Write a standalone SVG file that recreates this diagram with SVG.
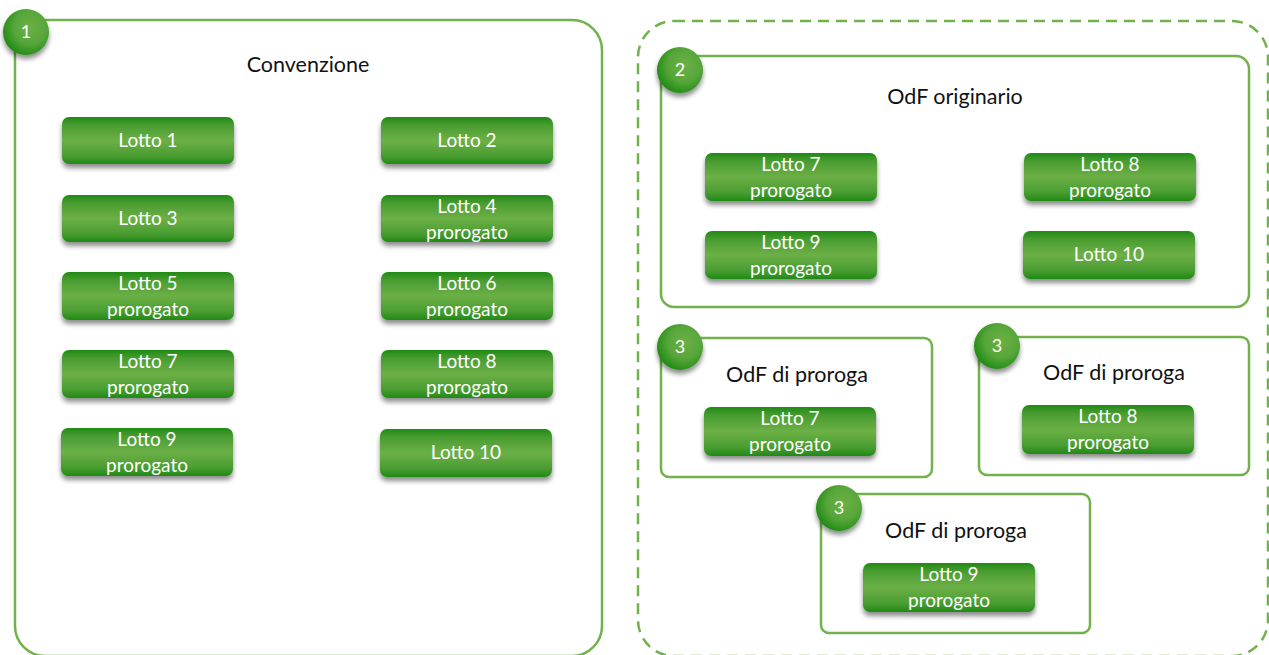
<svg xmlns="http://www.w3.org/2000/svg" width="1269" height="655" viewBox="0 0 1269 655">
<defs>
<linearGradient id="btn" x1="0" y1="0" x2="0" y2="1">
<stop offset="0" stop-color="#1f8a14"/>
<stop offset="0.18" stop-color="#4a9d32"/>
<stop offset="0.5" stop-color="#6cb046"/>
<stop offset="0.82" stop-color="#4a9d32"/>
<stop offset="1" stop-color="#1f8a14"/>
</linearGradient>
<radialGradient id="circ" cx="0.6" cy="0.4" r="0.65">
<stop offset="0" stop-color="#6cb046"/>
<stop offset="0.55" stop-color="#57a63a"/>
<stop offset="1" stop-color="#1d8a12"/>
</radialGradient>
<filter id="sh" x="-20%" y="-30%" width="140%" height="180%">
<feGaussianBlur in="SourceAlpha" stdDeviation="2.5"/>
<feOffset dx="0" dy="4" result="b"/>
<feComponentTransfer><feFuncA type="linear" slope="0.45"/></feComponentTransfer>
<feMerge><feMergeNode/><feMergeNode in="SourceGraphic"/></feMerge>
</filter>
</defs>
<style>
.frame{fill:#fff;stroke:#71b24d;stroke-width:2.5}
.dash{fill:none;stroke:#71b24d;stroke-width:2.5;stroke-dasharray:11 7}
.btn{fill:url(#btn);filter:url(#sh)}
.circ{fill:url(#circ);filter:url(#sh)}
.bt{font-family:Lato,"Open Sans","Liberation Sans",sans-serif;font-size:19px;fill:#fff;text-anchor:middle}
.ct{font-family:Lato,"Open Sans","Liberation Sans",sans-serif;font-size:18px;fill:#fff;text-anchor:middle}
.title{font-family:Lato,"Open Sans","Liberation Sans",sans-serif;font-size:21.5px;fill:#111;text-anchor:middle}
</style>
<rect width="1269" height="655" fill="#fff"/>

<g id="convenzione">
<rect class="frame" x="15" y="20" width="587" height="636" rx="30"/>
<text class="title" x="308" y="72">Convenzione</text>
</g>
<g id="odf-group">
<rect class="dash" x="638" y="21" width="630" height="635" rx="36"/>
</g>
<g id="odf-originario">
<rect class="frame" x="661" y="56" width="588" height="251" rx="13"/>
<text class="title" x="955" y="104">OdF originario</text>
</g>
<g id="odf-proroga-1">
<rect class="frame" x="661" y="338" width="271" height="139" rx="8"/>
<text class="title" x="797" y="382">OdF di proroga</text>
</g>
<g id="odf-proroga-2">
<rect class="frame" x="979" y="337" width="270" height="138" rx="8"/>
<text class="title" x="1114" y="380">OdF di proroga</text>
</g>
<g id="odf-proroga-3">
<rect class="frame" x="821" y="494" width="269" height="139" rx="8"/>
<text class="title" x="956" y="538">OdF di proroga</text>
</g>

<g id="c1"><circle class="circ" cx="26" cy="32" r="23"/><text class="ct" x="26" y="38">1</text></g>
<g id="c2"><circle class="circ" cx="680" cy="70" r="23"/><text class="ct" x="680" y="76">2</text></g>
<g id="c3a"><circle class="circ" cx="680" cy="347" r="23"/><text class="ct" x="680" y="353">3</text></g>
<g id="c3b"><circle class="circ" cx="997" cy="346" r="23"/><text class="ct" x="997" y="352">3</text></g>
<g id="c3c"><circle class="circ" cx="839" cy="508" r="23"/><text class="ct" x="839" y="514">3</text></g>

<g id="l1"><rect class="btn" x="62" y="117" width="172" height="47" rx="7"/><text class="bt" x="148" y="147">Lotto 1</text></g>
<g id="l2"><rect class="btn" x="381" y="117" width="172" height="47" rx="7"/><text class="bt" x="467" y="147">Lotto 2</text></g>
<g id="l3"><rect class="btn" x="62" y="195" width="172" height="47" rx="7"/><text class="bt" x="148" y="225">Lotto 3</text></g>
<g id="l4"><rect class="btn" x="381" y="195" width="172" height="47" rx="7"/><text class="bt" x="467" y="213">Lotto 4</text><text class="bt" x="467" y="239">prorogato</text></g>
<g id="l5"><rect class="btn" x="62" y="272" width="172" height="48" rx="7"/><text class="bt" x="148" y="290">Lotto 5</text><text class="bt" x="148" y="316">prorogato</text></g>
<g id="l6"><rect class="btn" x="381" y="272" width="172" height="48" rx="7"/><text class="bt" x="467" y="290">Lotto 6</text><text class="bt" x="467" y="316">prorogato</text></g>
<g id="l7"><rect class="btn" x="62" y="350" width="172" height="48" rx="7"/><text class="bt" x="148" y="368">Lotto 7</text><text class="bt" x="148" y="394">prorogato</text></g>
<g id="l8"><rect class="btn" x="381" y="350" width="172" height="48" rx="7"/><text class="bt" x="467" y="368">Lotto 8</text><text class="bt" x="467" y="394">prorogato</text></g>
<g id="l9"><rect class="btn" x="61" y="428" width="172" height="48" rx="7"/><text class="bt" x="147" y="446">Lotto 9</text><text class="bt" x="147" y="472">prorogato</text></g>
<g id="l10"><rect class="btn" x="380" y="429" width="172" height="48" rx="7"/><text class="bt" x="466" y="459">Lotto 10</text></g>

<g id="o7"><rect class="btn" x="705" y="153" width="172" height="48" rx="7"/><text class="bt" x="791" y="171">Lotto 7</text><text class="bt" x="791" y="197">prorogato</text></g>
<g id="o8"><rect class="btn" x="1024" y="153" width="172" height="48" rx="7"/><text class="bt" x="1110" y="171">Lotto 8</text><text class="bt" x="1110" y="197">prorogato</text></g>
<g id="o9"><rect class="btn" x="705" y="231" width="172" height="48" rx="7"/><text class="bt" x="791" y="249">Lotto 9</text><text class="bt" x="791" y="275">prorogato</text></g>
<g id="o10"><rect class="btn" x="1023" y="231" width="172" height="48" rx="7"/><text class="bt" x="1109" y="261">Lotto 10</text></g>

<g id="p7"><rect class="btn" x="704" y="407" width="172" height="49" rx="7"/><text class="bt" x="790" y="425">Lotto 7</text><text class="bt" x="790" y="451">prorogato</text></g>
<g id="p8"><rect class="btn" x="1022" y="405" width="172" height="49" rx="7"/><text class="bt" x="1108" y="423">Lotto 8</text><text class="bt" x="1108" y="449">prorogato</text></g>
<g id="p9"><rect class="btn" x="863" y="563" width="172" height="49" rx="7"/><text class="bt" x="949" y="581">Lotto 9</text><text class="bt" x="949" y="607">prorogato</text></g>

<g id="connectors"/>
</svg>
